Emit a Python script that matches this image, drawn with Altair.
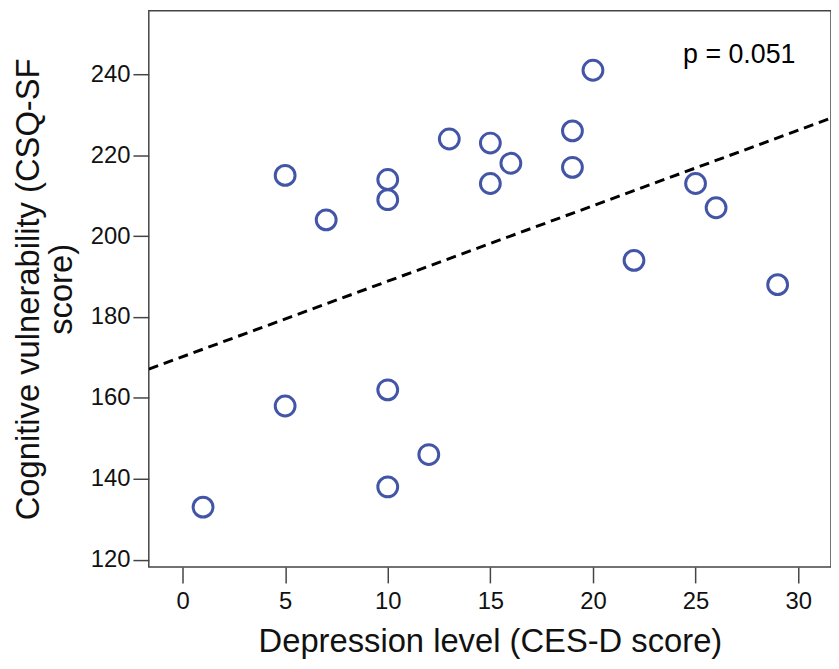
import altair as alt
import pandas as pd

# Data
depression = [1, 5, 5, 7, 10, 10, 10, 10, 12, 13, 15, 15, 16, 19, 19, 20, 22, 25, 26, 29]
vulnerability = [133, 215, 158, 204, 214, 209, 162, 138, 146, 224, 223, 213, 218, 226, 217, 241, 194, 213, 207, 188]

x_domain = [-1.644, 31.6]
y_domain = [118.2, 255.7]
x_ticks = [0, 5, 10, 15, 20, 25, 30]
y_ticks = [120, 140, 160, 180, 200, 220, 240]

annot_text = ["p = 0.051"]
annot_x = [27.13]
annot_y = [244.7]

df = pd.DataFrame({"x": depression, "y": vulnerability})
ann = pd.DataFrame({"x": annot_x, "y": annot_y, "t": annot_text})

FONT = "Liberation Sans"

xs = alt.Scale(domain=x_domain, nice=False, zero=False)
ys = alt.Scale(domain=y_domain, nice=False, zero=False)

xenc = alt.X("x:Q", scale=xs,
             axis=alt.Axis(values=x_ticks, title="Depression level (CES-D score)",
                           titlePadding=12, labelPadding=7))
yenc = alt.Y("y:Q", scale=ys,
             axis=alt.Axis(values=y_ticks, title=["Cognitive vulnerability (CSQ-SF", "score)"],
                           titlePadding=12, labelPadding=3))

points = alt.Chart(df).mark_point(
    shape="circle", filled=False, size=400, stroke="#4355a6", strokeWidth=3, opacity=1
).encode(x=xenc, y=yenc)

reg = alt.Chart(df).transform_regression(
    "x", "y", extent=x_domain
).mark_line(color="black", strokeWidth=3, strokeDash=[10, 6], clip=True).encode(
    x=alt.X("x:Q", scale=xs), y=alt.Y("y:Q", scale=ys)
)

label = alt.Chart(ann).mark_text(
    font=FONT, fontSize=27, color="black", align="center", baseline="middle"
).encode(x=alt.X("x:Q", scale=xs), y=alt.Y("y:Q", scale=ys), text="t:N")

chart = alt.layer(reg, points, label).properties(
    width=688, height=561,
    background="white",
    autosize=alt.AutoSizeParams(type="none"),
    padding={"left": 142, "top": 0, "right": 0, "bottom": 92},
).configure_view(
    stroke="#444444", strokeWidth=1.5
).configure_axis(
    grid=False, domain=False,
    tickColor="#444444", tickWidth=1.5, tickSize=16,
    labelFont=FONT, labelFontSize=24, labelColor="#111111",
    titleFont=FONT, titleFontSize=33, titleFontWeight="normal", titleColor="#111111",
    titleLineHeight=33,
)

chart.save("out.html", embed_options={"renderer": "svg", "actions": False})
